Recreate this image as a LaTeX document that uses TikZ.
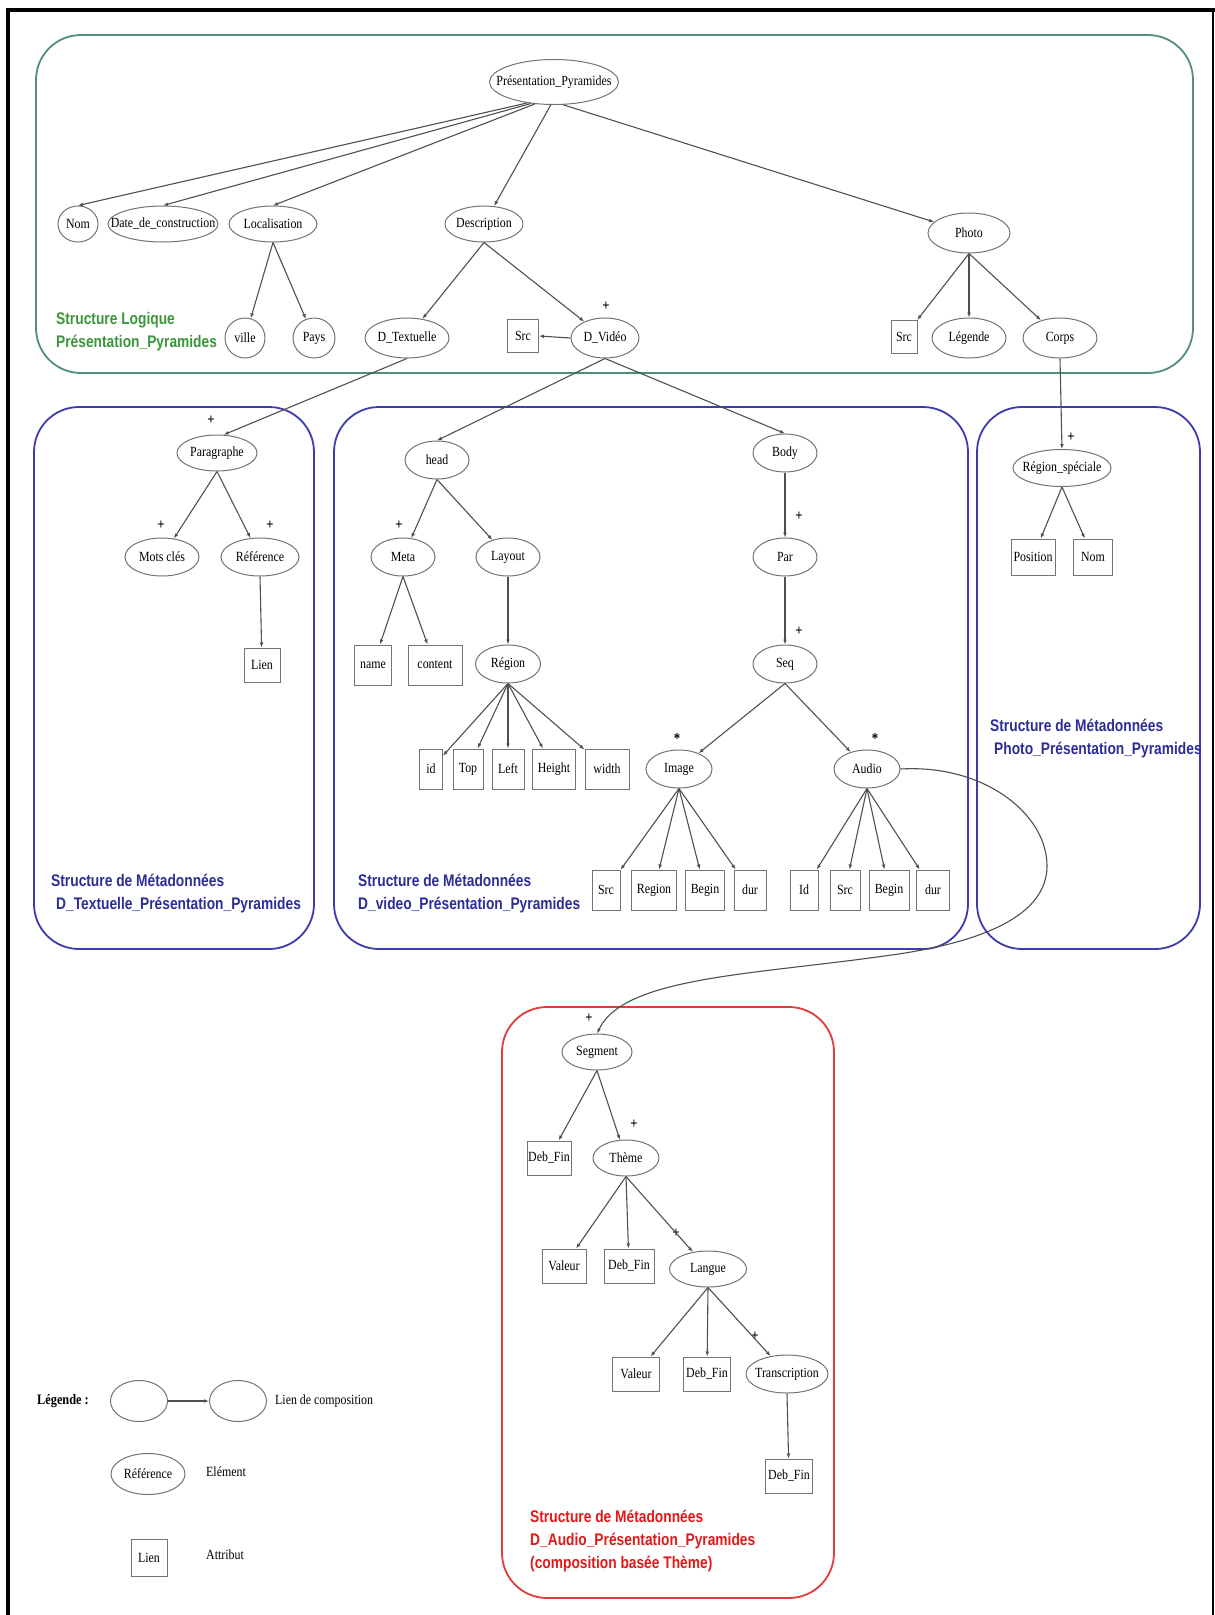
\documentclass[tikz,border=0pt]{standalone}
\usepackage{fontspec}
\setmainfont{Liberation Serif}
\newfontfamily\nodefont[FakeStretch=0.85]{Liberation Serif}
\newfontfamily\tagfont[FakeStretch=0.82]{Liberation Sans}
\usetikzlibrary{arrows.meta,shapes.geometric}

\definecolor{edgegray}{RGB}{80,80,80}
\definecolor{nodegray}{RGB}{115,115,115}
\definecolor{logicgreen}{RGB}{80,145,115}
\definecolor{labelgreen}{RGB}{60,150,60}
\definecolor{metablue}{RGB}{60,60,175}
\definecolor{labelblue}{RGB}{45,45,150}
\definecolor{audiored}{RGB}{225,60,60}
\definecolor{labelred}{RGB}{225,25,25}

% text centred in an ellipse whose size is fixed by minimum width/height
\newcommand\nt[1]{\makebox[0pt]{#1}}

\tikzset{
  elt/.style={ellipse, draw=nodegray, line width=1pt, fill=white, inner sep=0pt,
    minimum height=36pt, font=\nodefont\fontsize{14}{16}\selectfont},
  attr/.style={rectangle, draw=nodegray, line width=1pt, fill=white, inner sep=0pt,
    minimum height=35pt, font=\nodefont\fontsize{14}{16}\selectfont},
  link/.style={draw=edgegray, line width=1.1pt, -{Latex[length=5pt,width=3.8pt]}},
  group/.style={rounded corners=45pt, line width=1.8pt},
  card/.style={font=\nodefont\bfseries\fontsize{15}{17}\selectfont, inner sep=0pt},
  grouptitle/.style={font=\tagfont\bfseries\fontsize{16.8}{20}\selectfont, anchor=base west, inner sep=0pt},
  legendtext/.style={font=\nodefont\fontsize{14}{16}\selectfont, anchor=west, inner sep=0pt},
}

\begin{document}
\begin{tikzpicture}[x=1pt,y=-1pt]
\useasboundingbox (0,0) rectangle (1215,1615);
\fill[white] (0,0) rectangle (1215,1615);

% outer frame
\draw[line width=4pt] (8,1615) -- (8,10);
\draw[line width=4pt] (6,10) -- (1215,10);
\draw[line width=2pt] (1213,10) -- (1213,1615);

% group outlines
\draw[group, draw=logicgreen] (36,35) rectangle (1193,373);
\draw[group, draw=metablue] (34,407) rectangle (314,949);
\draw[group, draw=metablue] (334,407) rectangle (968,949);
\draw[group, draw=metablue] (977,407) rectangle (1200,949);
\draw[group, draw=audiored] (502,1007) rectangle (834,1598);

% group titles
\node[grouptitle, text=labelgreen] (tl1) at (56,324) {Structure Logique};
\node[grouptitle, text=labelgreen] (tl2) at (56,347) {Présentation\_Pyramides};
\node[grouptitle, text=labelblue] (tt1) at (51,886) {Structure de Métadonnées};
\node[grouptitle, text=labelblue] (tt2) at (56,909) {D\_Textuelle\_Présentation\_Pyramides};
\node[grouptitle, text=labelblue] (tv1) at (358,886) {Structure de Métadonnées};
\node[grouptitle, text=labelblue] (tv2) at (358,909) {D\_video\_Présentation\_Pyramides};
\node[grouptitle, text=labelblue] (tp1) at (990,731) {Structure de Métadonnées};
\node[grouptitle, text=labelblue] (tp2) at (994,754) {Photo\_Présentation\_Pyramides};
\node[grouptitle, text=labelred] (ta1) at (530,1522) {Structure de Métadonnées};
\node[grouptitle, text=labelred] (ta2) at (530,1545) {D\_Audio\_Présentation\_Pyramides};
\node[grouptitle, text=labelred] (ta3) at (530,1568) {(composition basée Thème)};

% logical structure
\node[elt, minimum width=129pt, minimum height=45pt] (pp) at (554,82) {\nt{Présentation\_Pyramides}};
\node[elt, minimum width=40pt] (nom) at (78,224) {\nt{Nom}};
\node[elt, minimum width=110pt] (date) at (163,224) {\nt{Date\_de\_construction}};
\node[elt, minimum width=88pt] (loc) at (273,224) {\nt{Localisation}};
\node[elt, minimum width=78pt] (desc) at (484,224) {\nt{Description}};
\node[elt, minimum width=82pt, minimum height=40pt] (photo) at (969,233) {\nt{Photo}};
\node[elt, minimum width=40pt, minimum height=40pt] (ville) at (245,338) {\nt{ville}};
\node[elt, minimum width=42pt, minimum height=40pt] (pays) at (314,338) {\nt{Pays}};
\node[elt, minimum width=84pt, minimum height=40pt] (dtext) at (407,338) {\nt{D\_Textuelle}};
\node[attr, minimum width=31pt, minimum height=33pt] (src1) at (523,336) {Src};
\node[elt, minimum width=68pt, minimum height=40pt] (dvid) at (605,338) {\nt{D\_Vidéo}};
\node[attr, minimum width=26pt, minimum height=33pt] (src2) at (904,337) {Src};
\node[elt, minimum width=74pt, minimum height=40pt] (legende) at (969,338) {\nt{Légende}};
\node[elt, minimum width=74pt, minimum height=40pt] (corps) at (1060,338) {\nt{Corps}};

% textual description
\node[elt, minimum width=80pt] (para) at (217,453) {\nt{Paragraphe}};
\node[elt, minimum width=74pt, minimum height=38pt] (motscles) at (162,557) {\nt{Mots clés}};
\node[elt, minimum width=78pt, minimum height=38pt] (ref) at (260,557) {\nt{Référence}};
\node[attr, minimum width=36pt, minimum height=34pt] (lien) at (262,665) {Lien};

% video description
\node[elt, minimum width=64pt, minimum height=38pt] (head) at (437,460) {\nt{head}};
\node[elt, minimum width=64pt, minimum height=38pt] (body) at (785,453) {\nt{Body}};
\node[elt, minimum width=64pt, minimum height=38pt] (meta) at (403,557) {\nt{Meta}};
\node[elt, minimum width=64pt, minimum height=38pt] (layout) at (508,557) {\nt{Layout}};
\node[elt, minimum width=64pt, minimum height=38pt] (par) at (785,557) {\nt{Par}};
\node[attr, minimum width=37pt, minimum height=40pt] (name) at (373,665) {name};
\node[attr, minimum width=54pt, minimum height=40pt] (content) at (435,665) {content};
\node[elt, minimum width=65pt, minimum height=38pt] (region) at (508,664) {\nt{Région}};
\node[elt, minimum width=64pt, minimum height=38pt] (seq) at (785,664) {\nt{Seq}};
\node[attr, minimum width=23pt, minimum height=40pt] (id) at (431,769) {id};
\node[attr, minimum width=30pt, minimum height=40pt] (top) at (468,769) {Top};
\node[attr, minimum width=32pt, minimum height=40pt] (left) at (508,769) {Left};
\node[attr, minimum width=43pt, minimum height=40pt] (height) at (554,769) {Height};
\node[attr, minimum width=44pt, minimum height=40pt] (width) at (607,769) {width};
\node[elt, minimum width=66pt, minimum height=38pt] (image) at (679,769) {\nt{Image}};
\node[elt, minimum width=66pt, minimum height=38pt] (audio) at (867,769) {\nt{Audio}};
\node[attr, minimum width=28pt, minimum height=40pt] (isrc) at (606,890) {Src};
\node[attr, minimum width=45pt, minimum height=40pt] (iregion) at (654,890) {Region};
\node[attr, minimum width=39pt, minimum height=40pt] (ibegin) at (705,890) {Begin};
\node[attr, minimum width=32pt, minimum height=40pt] (idur) at (750,890) {dur};
\node[attr, minimum width=28pt, minimum height=40pt] (aid) at (804,890) {Id};
\node[attr, minimum width=30pt, minimum height=40pt] (asrc) at (845,890) {Src};
\node[attr, minimum width=40pt, minimum height=40pt] (abegin) at (889,890) {Begin};
\node[attr, minimum width=33pt, minimum height=40pt] (adur) at (933,890) {dur};

% photo description
\node[elt, minimum width=98pt, minimum height=37pt] (rs) at (1062,468) {\nt{Région\_spéciale}};
\node[attr, minimum width=44pt, minimum height=36pt] (position) at (1033,557) {Position};
\node[attr, minimum width=39pt, minimum height=36pt] (nomb) at (1093,557) {Nom};

% audio description
\node[elt, minimum width=70pt] (seg) at (597,1052) {\nt{Segment}};
\node[attr, minimum width=44pt, minimum height=34pt] (dbf1) at (549,1158) {Deb\_Fin};
\node[elt, minimum width=66pt] (theme) at (626,1158) {\nt{Thème}};
\node[attr, minimum width=44pt, minimum height=34pt] (val1) at (564,1266) {Valeur};
\node[attr, minimum width=50pt, minimum height=34pt] (dbf2) at (629,1266) {Deb\_Fin};
\node[elt, minimum width=77pt] (langue) at (708,1269) {\nt{Langue}};
\node[attr, minimum width=47pt, minimum height=34pt] (val2) at (636,1374) {Valeur};
\node[attr, minimum width=47pt, minimum height=34pt] (dbf3) at (707,1374) {Deb\_Fin};
\node[elt, minimum width=82pt, minimum height=38pt] (trans) at (787,1374) {\nt{Transcription}};
\node[attr, minimum width=47pt, minimum height=34pt] (dbf4) at (789,1476) {Deb\_Fin};

% multiplicities
\node[card] (m1) at (606,306) {+};
\node[card] (m2) at (211,420) {+};
\node[card] (m3) at (161,525) {+};
\node[card] (m4) at (270,525) {+};
\node[card] (m5) at (399,525) {+};
\node[card] (m6) at (799,516) {+};
\node[card] (m7) at (799,631) {+};
\node[card] (m8) at (677,739) {*};
\node[card] (m9) at (875,739) {*};
\node[card] (m10) at (1071,437) {+};
\node[card] (m11) at (589,1018) {+};
\node[card] (m12) at (634,1124) {+};
\node[card] (m13) at (676,1233) {+};
\node[card] (m14) at (755,1336) {+};

% composition links
\draw[link] (pp.218) -- (nom.north);
\draw[link] (pp.223) -- (date.north);
\draw[link] (pp.229) -- (loc.north);
\draw[link] (pp.262) -- (desc);
\draw[link] (pp.292) -- (photo);
\draw[link] (loc.south) -- (ville);
\draw[link] (loc.south) -- (pays);
\draw[link] (desc.south) -- (dtext);
\draw[link] (desc.south) -- (dvid);
\draw[link] (dvid.west) -- (src1.east);
\draw[link] (photo.south) -- (src2);
\draw[link] (photo.south) -- (legende);
\draw[link] (photo.south) -- (corps);
\draw[link] (dtext.south) -- (para.70);
\draw[link] (dvid.south) -- (head.north);
\draw[link] (dvid.south) -- (body.north);
\draw[link] (corps.south) -- (rs.north);

\draw[link] (para.south) -- (motscles);
\draw[link] (para.south) -- (ref);
\draw[link] (ref.south) -- (lien);

\draw[link] (head.south) -- (meta);
\draw[link] (head.south) -- (layout);
\draw[link] (meta.south) -- (name);
\draw[link] (meta.south) -- (content);
\draw[link] (layout.south) -- (region);
\draw[link] (region.south) -- (id);
\draw[link] (region.south) -- (top);
\draw[link] (region.south) -- (left);
\draw[link] (region.south) -- (height);
\draw[link] (region.south) -- (width);
\draw[link] (body.south) -- (par);
\draw[link] (par.south) -- (seq);
\draw[link] (seq.south) -- (image);
\draw[link] (seq.south) -- (audio);
\draw[link] (image.south) -- (isrc);
\draw[link] (image.south) -- (iregion);
\draw[link] (image.south) -- (ibegin);
\draw[link] (image.south) -- (idur);
\draw[link] (audio.south) -- (aid);
\draw[link] (audio.south) -- (asrc);
\draw[link] (audio.south) -- (abegin);
\draw[link] (audio.south) -- (adur);

\draw[link] (rs.south) -- (position);
\draw[link] (rs.south) -- (nomb);

\draw[link] (audio.east) .. controls (985,764) and (1048,815) .. (1047,867)
  .. controls (1046,915) and (985,940) .. (905,953)
  .. controls (760,975) and (625,975) .. (seg.north);

\draw[link] (seg.south) -- (dbf1);
\draw[link] (seg.south) -- (theme);
\draw[link] (theme.south) -- (val1);
\draw[link] (theme.south) -- (dbf2);
\draw[link] (theme.south) -- (langue);
\draw[link] (langue.south) -- (val2);
\draw[link] (langue.south) -- (dbf3);
\draw[link] (langue.south) -- (trans);
\draw[link] (trans.south) -- (dbf4);

% legend
\node[font=\nodefont\bfseries\fontsize{14.5}{16}\selectfont, inner sep=0pt] (lgtitle) at (63,1401) {Légende :};
\node[elt, minimum width=57pt, minimum height=41pt] (lg1) at (139,1401) {};
\node[elt, minimum width=57pt, minimum height=41pt] (lg2) at (238,1401) {};
\draw[link] (lg1) -- (lg2);
\node[legendtext] (lgt1) at (275,1401) {Lien de composition};
\node[elt, minimum width=74pt, minimum height=41pt] (lgref) at (148,1474) {\nt{Référence}};
\node[legendtext] (lgt2) at (206,1472) {Elément};
\node[attr, minimum width=36pt, minimum height=37pt] (lglien) at (149,1558) {Lien};
\node[legendtext] (lgt3) at (206,1555) {Attribut};
\end{tikzpicture}
\end{document}
